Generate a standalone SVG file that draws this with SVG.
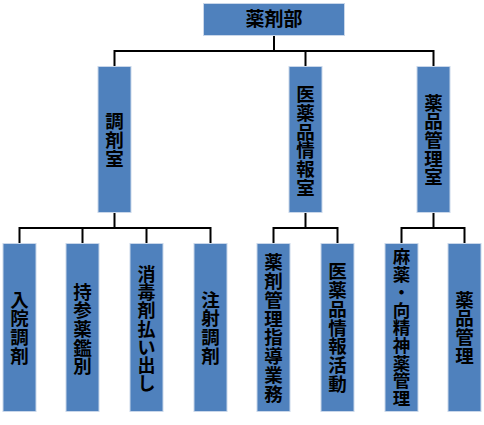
<svg xmlns="http://www.w3.org/2000/svg" width="484" height="425" viewBox="0 0 484 425">
<style>
.box{fill:#4F81BD;stroke:#C9D7EA;stroke-width:1}
.t{font-family:"Noto Sans CJK JP","Noto Sans CJK SC",sans-serif;font-weight:700;font-size:18.5px;fill:#000;text-anchor:middle}
.m{font-size:18px}
.s{font-size:17.5px}
.c{fill:none;stroke:#000;stroke-width:2;stroke-linejoin:miter}
</style>
<rect width="484" height="425" fill="#fff"/>
<g id="connectors">
<path class="c" d="M274,36 V51"/>
<path class="c" d="M114.5,66 V51 H433.5 V66"/>
<path class="c" d="M305.5,51 V66"/>
<path class="c" d="M114.5,213 V228"/>
<path class="c" d="M19.5,243 V228 H210.5 V243"/>
<path class="c" d="M82.5,228 V243"/>
<path class="c" d="M146.5,228 V243"/>
<path class="c" d="M305.5,213 V228"/>
<path class="c" d="M273.5,243 V228 H337.5 V243"/>
<path class="c" d="M433.5,213 V228"/>
<path class="c" d="M401.5,243 V228 H464.5 V243"/>
</g>
<g id="n-yakuzaibu">
<rect class="box" x="203.5" y="3.5" width="141" height="32"/>
<text class="t" x="274" y="26" style="font-size:19px">薬剤部</text>
</g>
<g id="n-chozaishitsu">
<rect class="box" x="98" y="66.5" width="33" height="146"/>
<text class="t"><tspan x="114.5" y="128.3">調</tspan><tspan x="114.5" y="147">剤</tspan><tspan x="114.5" y="165.7">室</tspan></text>
</g>
<g id="n-iyakuhinjoho">
<rect class="box" x="289" y="66.5" width="33" height="146"/>
<text class="t"><tspan x="305.5" y="101.3">医</tspan><tspan x="305.5" y="120">薬</tspan><tspan x="305.5" y="138.7">品</tspan><tspan x="305.5" y="157.4">情</tspan><tspan x="305.5" y="176.1">報</tspan><tspan x="305.5" y="194.8">室</tspan></text>
</g>
<g id="n-yakuhinkanri">
<rect class="box" x="417" y="66.5" width="33" height="146"/>
<text class="t"><tspan x="433.5" y="109.6">薬</tspan><tspan x="433.5" y="128.3">品</tspan><tspan x="433.5" y="147">管</tspan><tspan x="433.5" y="165.7">理</tspan><tspan x="433.5" y="184.4">室</tspan></text>
</g>
<g id="n-nyuin">
<rect class="box" x="3" y="243.5" width="33" height="168"/>
<text class="t"><tspan x="19.5" y="306.5">入</tspan><tspan x="19.5" y="325.2">院</tspan><tspan x="19.5" y="343.9">調</tspan><tspan x="19.5" y="362.6">剤</tspan></text>
</g>
<g id="n-jisan">
<rect class="box" x="66" y="243.5" width="33" height="168"/>
<text class="t"><tspan x="82.5" y="298.6">持</tspan><tspan x="82.5" y="317.3">参</tspan><tspan x="82.5" y="336">薬</tspan><tspan x="82.5" y="354.7">鑑</tspan><tspan x="82.5" y="373.4">別</tspan></text>
</g>
<g id="n-shodoku">
<rect class="box" x="130" y="243.5" width="33" height="168"/>
<text class="t m"><tspan x="146.5" y="281.2">消</tspan><tspan x="146.5" y="299.3">毒</tspan><tspan x="146.5" y="317.4">剤</tspan><tspan x="146.5" y="335.5">払</tspan><tspan x="146.5" y="353.6">い</tspan><tspan x="146.5" y="371.7">出</tspan><tspan x="146.5" y="389.8">し</tspan></text>
</g>
<g id="n-chusha">
<rect class="box" x="194" y="243.5" width="33" height="168"/>
<text class="t"><tspan x="210.5" y="306.5">注</tspan><tspan x="210.5" y="325.2">射</tspan><tspan x="210.5" y="343.9">調</tspan><tspan x="210.5" y="362.6">剤</tspan></text>
</g>
<g id="n-yakuzaikanri">
<rect class="box" x="257" y="243.5" width="33" height="168"/>
<text class="t"><tspan x="273.5" y="269.4">薬</tspan><tspan x="273.5" y="288.2">剤</tspan><tspan x="273.5" y="306.9">管</tspan><tspan x="273.5" y="325.7">理</tspan><tspan x="273.5" y="344.4">指</tspan><tspan x="273.5" y="363.2">導</tspan><tspan x="273.5" y="381.9">業</tspan><tspan x="273.5" y="400.7">務</tspan></text>
</g>
<g id="n-iyakuhinkatsudo">
<rect class="box" x="321" y="243.5" width="33" height="168"/>
<text class="t"><tspan x="337.5" y="278.4">医</tspan><tspan x="337.5" y="297.1">薬</tspan><tspan x="337.5" y="315.8">品</tspan><tspan x="337.5" y="334.5">情</tspan><tspan x="337.5" y="353.2">報</tspan><tspan x="337.5" y="371.9">活</tspan><tspan x="337.5" y="390.6">動</tspan></text>
</g>
<g id="n-mayaku">
<rect class="box" x="385" y="243.5" width="33" height="168"/>
<text class="t s"><tspan x="401.5" y="263.4">麻</tspan><tspan x="401.5" y="281.1">薬</tspan><tspan x="401.5" y="298.8">・</tspan><tspan x="401.5" y="316.5">向</tspan><tspan x="401.5" y="334.2">精</tspan><tspan x="401.5" y="351.9">神</tspan><tspan x="401.5" y="369.6">薬</tspan><tspan x="401.5" y="387.3">管</tspan><tspan x="401.5" y="405">理</tspan></text>
</g>
<g id="n-yakuhinkanri2">
<rect class="box" x="448" y="243.5" width="33" height="168"/>
<text class="t"><tspan x="464.5" y="306.5">薬</tspan><tspan x="464.5" y="325.2">品</tspan><tspan x="464.5" y="343.9">管</tspan><tspan x="464.5" y="362.6">理</tspan></text>
</g>
</svg>
